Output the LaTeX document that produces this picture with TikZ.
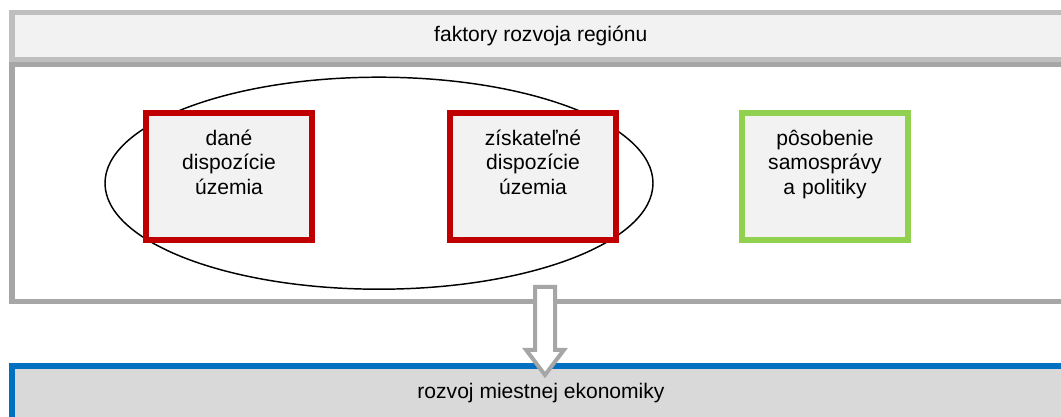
\documentclass[tikz,border=0pt]{standalone}
\usepackage{fontspec}
\setmainfont{Liberation Sans}
\usepackage{xcolor}
\usepackage{tikz}
\usetikzlibrary{shapes.geometric, shapes.arrows, positioning}

\definecolor{framegray}{HTML}{A6A6A6}
\definecolor{headgray}{HTML}{BFBFBF}
\definecolor{palegray}{HTML}{F2F2F2}
\definecolor{midgray}{HTML}{D9D9D9}
\definecolor{darkred}{HTML}{C00000}
\definecolor{lightgreen}{HTML}{92D050}
\definecolor{deepblue}{HTML}{0070C0}

\begin{document}
\begin{tikzpicture}[
    x=0.75pt, y=-0.75pt,
    font=\fontsize{15.8}{18.4}\selectfont,
    band/.style={rectangle, line width=4.2pt, minimum width=793.5pt, inner sep=0pt, align=center},
    factor/.style={rectangle, line width=4.5pt, fill=palegray, minimum width=124.5pt, minimum height=95.25pt, text width=115pt, align=center, text height=11pt, text depth=58pt},
    flowarrow/.style={single arrow, draw=framegray, fill=white, line width=3pt, rotate=-90, minimum height=66pt, minimum width=25.5pt, inner sep=6pt, single arrow head extend=6.75pt, single arrow tip angle=74}
]
\useasboundingbox (0,0) rectangle (1061,417);

\node[band, draw=headgray, fill=palegray, minimum height=35.6pt] (title) at (540.75,36.25) {faktory rozvoja regiónu};
\node[band, draw=framegray, fill=white, minimum height=177.75pt] (region) at (541,183) {};

\node[ellipse, draw, line width=1.1pt, minimum width=411pt, minimum height=159pt, inner sep=0pt] (given) at (379,183.2) {};

\node[factor, draw=darkred] (natural) at (229,176.5) {dané\\dispozície\\územia};
\node[factor, draw=darkred, right=99pt of natural] (acquired) {získateľné\\dispozície\\územia};
\node[factor, draw=lightgreen, right=90pt of acquired] (policy) {pôsobenie\\samosprávy\\a politiky};

\node[band, draw=deepblue, fill=midgray, line width=4.5pt, minimum height=41.25pt] (outcome) at (541,393.5) {rozvoj miestnej ekonomiky};

\node[flowarrow, anchor=tail] (flow) at (545,285) {};

\end{tikzpicture}
\end{document}
